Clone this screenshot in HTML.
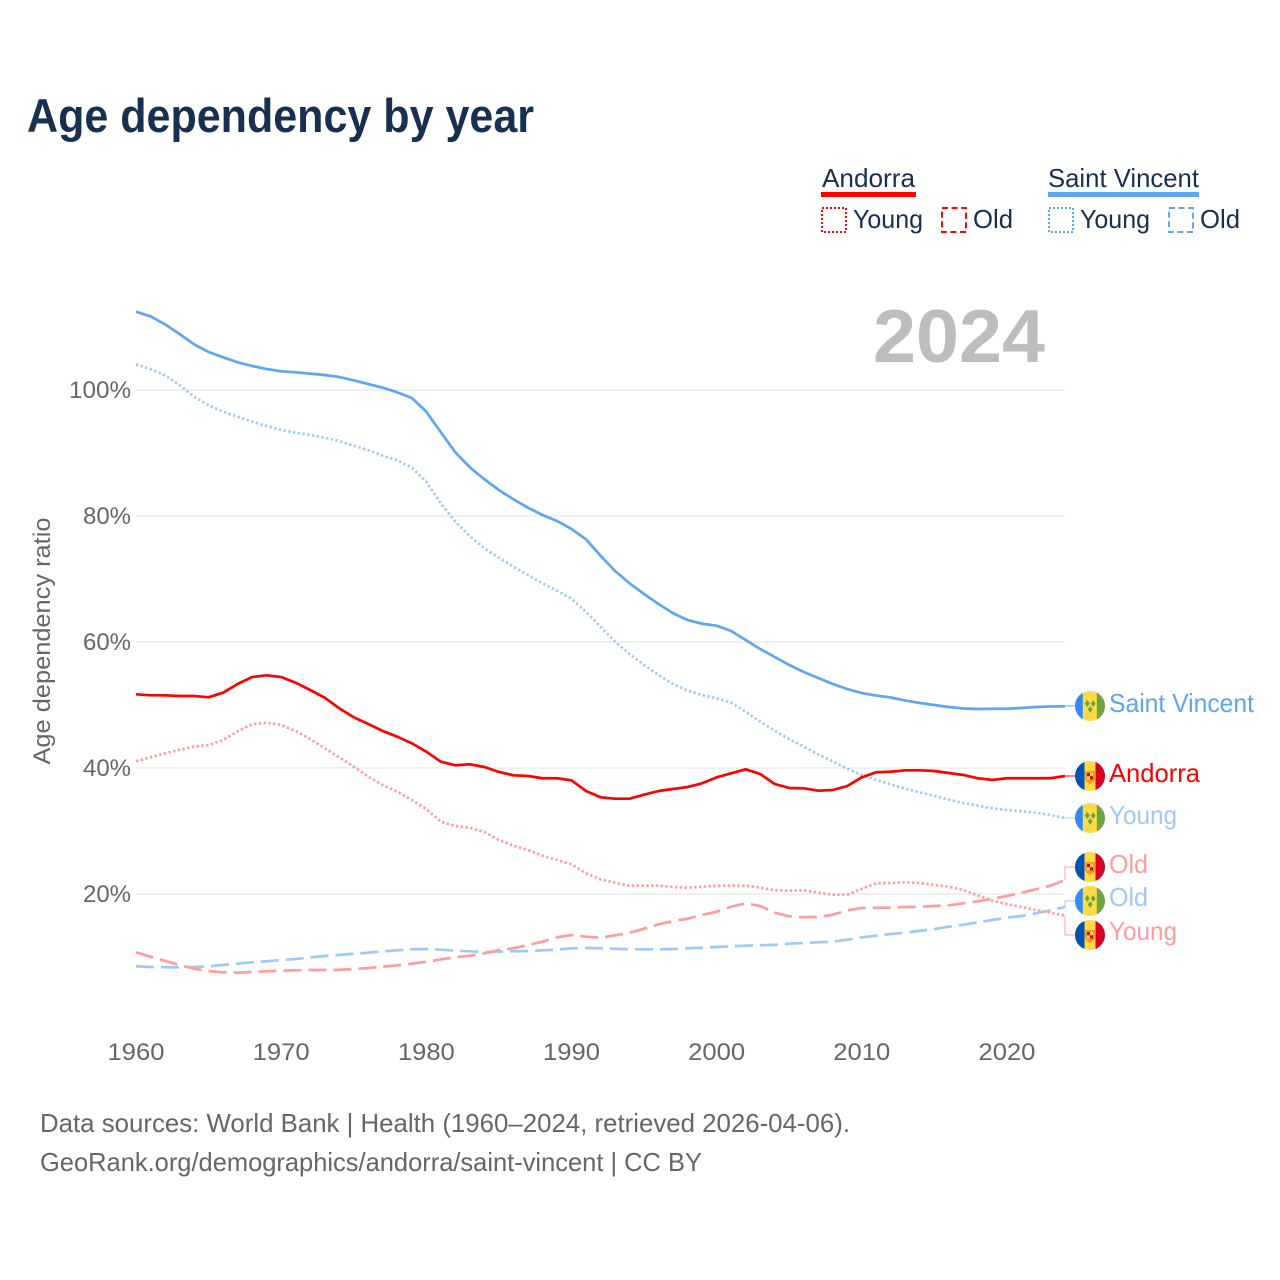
<!DOCTYPE html>
<html lang="en">
<head>
<meta charset="utf-8">
<title>Age dependency by year</title>
<style>
  html, body { margin: 0; padding: 0; background: #fff; }
  svg { display: block; font-family: "Liberation Sans", sans-serif; }
  text { white-space: pre; }
</style>
</head>
<body>
<svg id="chart" xmlns="http://www.w3.org/2000/svg" width="1280" height="1280" viewBox="0 0 1280 1280">
  <defs>
    <clipPath id="flag-clip"><circle cx="0" cy="0" r="15"></circle></clipPath>
    <symbol id="flag-sv" overflow="visible" viewBox="-15 -15 30 30" width="30" height="30">
      <g clip-path="url(#flag-clip)">
        <rect x="-15" y="-15" width="30" height="30" fill="#ffda44"></rect>
        <rect x="-15" y="-15" width="7.8" height="30" fill="#338af3"></rect>
        <rect x="6.8" y="-15" width="8.2" height="30" fill="#6da544"></rect>
        <path d="M-2.7 -6 L-0.3 -2.5 L-2.7 1 L-5.1 -2.5 Z M3.2 -6 L5.6 -2.5 L3.2 1 L0.8 -2.5 Z M0.2 0 L2.6 3.5 L0.2 7 L-2.2 3.5 Z" fill="#6da544"></path>
      </g>
    </symbol>
    <symbol id="flag-ad" overflow="visible" viewBox="-15 -15 30 30" width="30" height="30">
      <g clip-path="url(#flag-clip)">
        <rect x="-15" y="-15" width="30" height="30" fill="#ffda44"></rect>
        <rect x="-15" y="-15" width="9.5" height="30" fill="#0052b4"></rect>
        <rect x="5.5" y="-15" width="9.5" height="30" fill="#d80027"></rect>
        <path d="M-5 -5 H5 V3 Q4 6 0 8 Q-4 6 -5 3 Z" fill="#ff9811"></path>
        <rect x="-3" y="-3" width="6" height="6.5" fill="#ffda44"></rect>
        <rect x="-3" y="-3" width="3" height="3.2" fill="#d80027"></rect>
        <rect x="0" y="0.2" width="3" height="3.3" fill="#d80027"></rect>
      </g>
    </symbol>
  </defs>

  <text x="27" y="132" font-size="47" font-weight="700" fill="#17304f" textLength="507" lengthAdjust="spacingAndGlyphs">Age dependency by year</text>

  <g>
    <g>
      <text x="822" y="187" font-size="26" fill="#17304f" textLength="93" lengthAdjust="spacingAndGlyphs">Andorra</text>
      <rect x="821" y="192" width="95" height="5" fill="#ff0000"></rect>
      <rect x="822" y="208" width="24" height="24" fill="none" stroke="#ff0000" stroke-width="2" stroke-dasharray="2 2"></rect>
      <text x="853" y="228" font-size="26" fill="#17304f" textLength="70" lengthAdjust="spacingAndGlyphs">Young</text>
      <rect x="942" y="208" width="24" height="24" fill="none" stroke="#ff0000" stroke-width="2" stroke-dasharray="6 3.6"></rect>
      <text x="973" y="228" font-size="26" fill="#17304f" textLength="40" lengthAdjust="spacingAndGlyphs">Old</text>
    </g>
    <g>
      <text x="1048" y="187" font-size="26" fill="#17304f" textLength="151" lengthAdjust="spacingAndGlyphs">Saint Vincent</text>
      <rect x="1048" y="192" width="151" height="5" fill="#5fa5ef"></rect>
      <rect x="1049" y="208" width="24" height="24" fill="none" stroke="#5fa5ef" stroke-width="2" stroke-dasharray="2 2"></rect>
      <text x="1080" y="228" font-size="26" fill="#17304f" textLength="70" lengthAdjust="spacingAndGlyphs">Young</text>
      <rect x="1169" y="208" width="24" height="24" fill="none" stroke="#5fa5ef" stroke-width="2" stroke-dasharray="6 3.6"></rect>
      <text x="1200" y="228" font-size="26" fill="#17304f" textLength="40" lengthAdjust="spacingAndGlyphs">Old</text>
    </g>
  </g>

  <g id="grid"></g>
  <g id="y-ticks"></g>
  <g id="x-ticks"></g>
  <text x="50" y="641" transform="rotate(-90 50 641)" text-anchor="middle" font-size="24" fill="#666666" textLength="247" lengthAdjust="spacingAndGlyphs">Age dependency ratio</text>

  <text x="1045" y="362" text-anchor="end" font-size="75" font-weight="700" fill="#bdbdbd" textLength="172" lengthAdjust="spacingAndGlyphs">2024</text>

  <g id="series"></g>
  <g id="connectors"></g>

  <g>
    <use href="#flag-sv" x="1075" y="691"></use>
    <text x="1109" y="712" font-size="26" fill="#5fa5ef" textLength="145" lengthAdjust="spacingAndGlyphs">Saint Vincent</text>
    <use href="#flag-ad" x="1075" y="761"></use>
    <text x="1109" y="782" font-size="26" fill="#ff0000" textLength="91" lengthAdjust="spacingAndGlyphs">Andorra</text>
    <use href="#flag-sv" x="1075" y="803"></use>
    <text x="1109" y="824" font-size="26" fill="#a0c9f5" textLength="68" lengthAdjust="spacingAndGlyphs">Young</text>
    <use href="#flag-ad" x="1075" y="852"></use>
    <text x="1109" y="873" font-size="26" fill="#ff9c9c" textLength="39" lengthAdjust="spacingAndGlyphs">Old</text>
    <use href="#flag-sv" x="1075" y="886"></use>
    <text x="1109" y="906" font-size="26" fill="#a0c9f5" textLength="39" lengthAdjust="spacingAndGlyphs">Old</text>
    <use href="#flag-ad" x="1075" y="920"></use>
    <text x="1109" y="940" font-size="26" fill="#ff9c9c" textLength="68" lengthAdjust="spacingAndGlyphs">Young</text>
  </g>

  <text x="40" y="1132" font-size="26" fill="#666666" textLength="810" lengthAdjust="spacingAndGlyphs">Data sources: World Bank | Health (1960–2024, retrieved 2026-04-06).</text>
  <text x="40" y="1171" font-size="26" fill="#666666" textLength="662" lengthAdjust="spacingAndGlyphs">GeoRank.org/demographics/andorra/saint-vincent | CC BY</text>
</svg>

<script>
const startYear = 1960;
const endYear = 2024;
const xTickYears = [1960, 1970, 1980, 1990, 2000, 2010, 2020];
const yTickValues = [20, 40, 60, 80, 100];
const yTickLabels = ["20%", "40%", "60%", "80%", "100%"];

const saintVincentTotal = [
  112.43,111.70,110.43,108.89,107.25,106.03,105.19,104.40,103.81,103.33,
  102.97,102.81,102.59,102.38,102.06,101.54,100.95,100.37,99.63,98.73,
  96.56,93.29,90.11,87.73,85.83,84.13,82.65,81.32,80.16,79.21,
  77.94,76.30,73.70,71.27,69.32,67.62,66.03,64.56,63.49,62.90,
  62.59,61.75,60.32,58.89,57.62,56.35,55.24,54.29,53.33,52.54,
  51.90,51.50,51.19,50.71,50.32,50.00,49.68,49.44,49.37,49.40,
  49.41,49.52,49.68,49.76,49.79
];
const saintVincentYoung = [
  104.08,103.33,102.33,100.79,98.94,97.57,96.56,95.76,94.97,94.29,
  93.65,93.22,92.86,92.43,91.90,91.16,90.43,89.57,88.84,87.70,
  85.40,82.02,79.10,76.83,74.87,73.38,71.95,70.63,69.32,68.14,
  66.87,64.81,62.43,60.05,58.10,56.35,54.76,53.33,52.27,51.59,
  51.06,50.37,48.94,47.35,45.92,44.60,43.38,42.17,41.06,39.89,
  38.89,38.10,37.41,36.71,36.14,35.56,34.97,34.44,34.02,33.60,
  33.33,33.13,32.90,32.54,32.06
];
const saintVincentOld = [
  8.52,8.41,8.37,8.37,8.41,8.52,8.73,8.94,9.16,9.32,
  9.52,9.68,9.95,10.16,10.32,10.52,10.68,10.90,11.06,11.22,
  11.27,11.16,11.00,10.90,10.79,10.84,10.90,10.95,11.06,11.16,
  11.38,11.43,11.38,11.32,11.22,11.22,11.22,11.27,11.38,11.48,
  11.59,11.70,11.79,11.86,11.95,12.11,12.22,12.33,12.43,12.75,
  13.13,13.38,13.65,13.86,14.17,14.44,14.81,15.13,15.51,15.87,
  16.24,16.51,16.94,17.41,17.94
];
const andorraTotal = [
  51.70,51.54,51.54,51.43,51.43,51.22,51.95,53.33,54.44,54.71,
  54.44,53.54,52.38,51.16,49.48,48.05,46.98,45.87,44.97,43.92,
  42.59,41.00,40.43,40.59,40.16,39.37,38.84,38.73,38.37,38.37,
  38.05,36.35,35.35,35.13,35.13,35.76,36.35,36.67,36.98,37.57,
  38.52,39.16,39.79,39.05,37.46,36.83,36.78,36.40,36.51,37.14,
  38.52,39.32,39.41,39.63,39.63,39.52,39.21,38.89,38.37,38.10,
  38.37,38.37,38.37,38.37,38.73
];
const andorraYoung = [
  41.06,41.70,42.33,42.90,43.38,43.65,44.44,45.83,46.94,47.19,
  46.83,45.87,44.60,43.13,41.70,40.21,38.62,37.30,36.24,34.92,
  33.49,31.48,30.79,30.52,29.84,28.57,27.67,26.98,26.08,25.40,
  24.71,23.29,22.33,21.79,21.32,21.32,21.32,21.11,21.00,21.16,
  21.32,21.32,21.32,21.00,20.59,20.52,20.59,20.21,19.89,19.89,
  20.84,21.70,21.75,21.86,21.75,21.43,21.16,20.63,19.79,18.94,
  18.41,17.94,17.46,17.03,16.56
];
const andorraOld = [
  10.75,10.05,9.37,8.73,8.14,7.78,7.57,7.51,7.62,7.73,
  7.83,7.89,7.94,7.94,7.98,8.10,8.25,8.46,8.68,8.94,
  9.25,9.63,9.95,10.21,10.59,11.11,11.38,11.90,12.43,13.13,
  13.49,13.22,13.06,13.44,13.86,14.49,15.19,15.71,16.08,16.67,
  17.19,17.98,18.52,18.10,17.03,16.46,16.30,16.35,16.71,17.41,
  17.78,17.83,17.83,17.94,17.98,18.10,18.21,18.52,18.84,19.25,
  19.68,20.21,20.75,21.32,22.22
];

const NS = "http://www.w3.org/2000/svg";
const xScale = (year) => 136 + (year - startYear) * (1065 - 136) / (endYear - startYear);
const yScale = (value) => 1020 - value * 6.3;

const gridGroup = document.getElementById("grid");
const yTickGroup = document.getElementById("y-ticks");
yTickValues.forEach((v, i) => {
  const line = document.createElementNS(NS, "line");
  
  
  line.setAttribute("x1", 136);
  line.setAttribute("x2", 1065);
  line.setAttribute("y1", yScale(v));
  line.setAttribute("y2", yScale(v));
  line.setAttribute("stroke", "#ececec");
  line.setAttribute("stroke-width", "1.5");
  gridGroup.appendChild(line);

  const label = document.createElementNS(NS, "text");
  
  
  label.setAttribute("x", 131);
  label.setAttribute("y", yScale(v) + 8);
  label.setAttribute("text-anchor", "end");
  label.setAttribute("font-size", "24");
  label.setAttribute("fill", "#666666");
  label.setAttribute("textLength", yTickLabels[i].length === 4 ? 62 : 48);
  label.setAttribute("lengthAdjust", "spacingAndGlyphs");
  label.textContent = yTickLabels[i];
  yTickGroup.appendChild(label);
});

const xTickGroup = document.getElementById("x-ticks");
xTickYears.forEach((year) => {
  const label = document.createElementNS(NS, "text");
  
  
  label.setAttribute("x", xScale(year));
  label.setAttribute("y", 1060);
  label.setAttribute("text-anchor", "middle");
  label.setAttribute("font-size", "24");
  label.setAttribute("fill", "#666666");
  label.setAttribute("textLength", 57);
  label.setAttribute("lengthAdjust", "spacingAndGlyphs");
  label.textContent = String(year);
  xTickGroup.appendChild(label);
});

function drawLine(values, color, dash, name) {
  const path = document.createElementNS(NS, "path");
  const d = values.map((v, i) => (i ? "L" : "M") + xScale(startYear + i).toFixed(2) + " " + yScale(v).toFixed(2)).join(" ");
  path.setAttribute("d", d);
  path.setAttribute("fill", "none");
  path.setAttribute("stroke", color);
  path.setAttribute("stroke-width", "2.7");
  path.setAttribute("stroke-linejoin", "round");
  if (dash) path.setAttribute("stroke-dasharray", dash);
  
  
  document.getElementById("series").appendChild(path);
}

const dotted = "2.4 2.4";
const dashed = "18 7";
drawLine(saintVincentOld, "#a0c9f5", dashed, "line-saint-vincent-old");
drawLine(andorraOld, "#ff9c9c", dashed, "line-andorra-old");
drawLine(saintVincentYoung, "#a0c9f5", dotted, "line-saint-vincent-young");
drawLine(andorraYoung, "#ff9c9c", dotted, "line-andorra-young");
drawLine(saintVincentTotal, "#5fa5ef", null, "line-saint-vincent-total");
drawLine(andorraTotal, "#ff0000", null, "line-andorra-total");

function drawConnector(values, labelY, color, name) {
  const last = yScale(values[values.length - 1]);
  const path = document.createElementNS(NS, "path");
  path.setAttribute("d", "M1065 " + last.toFixed(2) + " V" + labelY + " H1075");
  path.setAttribute("fill", "none");
  path.setAttribute("stroke", color);
  path.setAttribute("stroke-width", "1");
  
  
  document.getElementById("connectors").appendChild(path);
}
drawConnector(saintVincentTotal, 706, "#5fa5ef", "connector-saint-vincent-total");
drawConnector(andorraTotal, 776, "#ff0000", "connector-andorra-total");
drawConnector(saintVincentYoung, 818, "#a0c9f5", "connector-saint-vincent-young");
drawConnector(andorraOld, 867, "#ff9c9c", "connector-andorra-old");
drawConnector(saintVincentOld, 901, "#a0c9f5", "connector-saint-vincent-old");
drawConnector(andorraYoung, 935, "#ff9c9c", "connector-andorra-young");
</script>
</body>
</html>
